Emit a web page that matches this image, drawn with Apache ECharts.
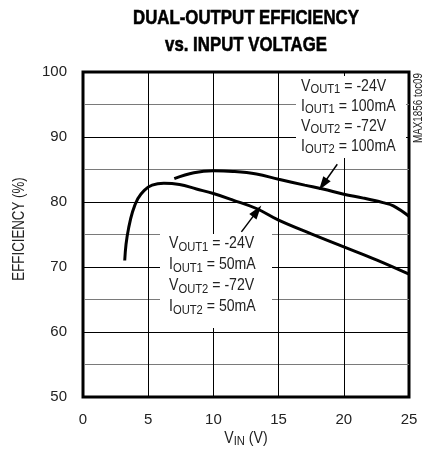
<!DOCTYPE html>
<html>
<head>
<meta charset="utf-8">
<script src="https://cdn.jsdelivr.net/npm/echarts@6/dist/echarts.min.js"></script>
<style>
  html, body { margin: 0; padding: 0; background: #fff; }
  #chart { width: 435px; height: 457px; }
</style>
</head>
<body>
<div id="chart"></div>
<script>
// Helvetica-like font, squeezed with scaleX to look condensed
let font = "'Liberation Sans', Arial, sans-serif";
let narrow = 0.83;

// x ticks (V) and y ticks (%)
let xTicks = [0, 5, 10, 15, 20, 25];
let yTicks = [50, 60, 70, 80, 90, 100];

// VOUT1=-24V, IOUT1=100mA / VOUT2=-72V, IOUT2=100mA
let vin100 = [7.0, 8.5, 10, 11.5, 13.3, 15, 17, 18.4, 20, 21.5, 23, 23.8, 25];
let eff100 = [83.6, 84.5, 84.8, 84.7, 84.3, 83.5, 82.6, 82.0, 81.2, 80.6, 79.9, 79.4, 77.8];

// VOUT1=-24V, IOUT1=50mA / VOUT2=-72V, IOUT2=50mA
let vin50 = [3.2, 3.3, 3.5, 3.8, 4.2, 4.7, 5.3, 6.2, 7.4, 8.7, 10, 11.5, 13.3, 15, 17.5, 20, 22.5, 25];
let eff50 = [71.0, 73.5, 76.0, 78.5, 80.5, 81.8, 82.6, 82.9, 82.7, 82.0, 81.3, 80.3, 79.0, 77.2, 75.1, 73.1, 71.1, 68.9];

function pairs(xs, ys) {
  return xs.map(function (x, i) { return [x, ys[i]]; });
}

let subStyle = { fontFamily: font, fontSize: 13.5, lineHeight: 12, verticalAlign: 'bottom', fill: '#222' };

function label(x, y, text, opts) {
  opts = opts || {};
  return {
    type: 'text',
    x: x,
    y: y,
    rotation: opts.rotation || 0,
    scaleX: opts.scaleX || narrow,
    z: 101,
    style: {
      text: text,
      fontFamily: font,
      fontSize: opts.fontSize || 17,
      fontWeight: opts.fontWeight || 'normal',
      lineHeight: opts.lineHeight || 20,
      fill: opts.fill || '#222',
      stroke: opts.stroke || null,
      lineWidth: opts.lineWidth || 0,
      align: opts.align || 'left',
      verticalAlign: opts.verticalAlign || 'top',
      rich: { sub: subStyle }
    }
  };
}

let option = {
  animation: false,
  grid: {
    left: 83, right: 26, top: 72, bottom: 60,
    show: true,
    borderColor: '#000',
    borderWidth: 3,
    backgroundColor: '#fff'
  },
  xAxis: {
    type: 'value',
    min: 0, max: 25, interval: 5,
    axisLine: { show: false },
    axisTick: { show: false },
    axisLabel: {
      fontFamily: font, fontSize: 15, color: '#222', margin: 15,
      formatter: function (v) { return xTicks.indexOf(v) >= 0 ? String(v) : ''; }
    },
    splitLine: { show: true, lineStyle: { color: '#000', width: 1 } }
  },
  yAxis: {
    type: 'value',
    min: 50, max: 100, interval: 5,
    axisLine: { show: false },
    axisTick: { show: false },
    axisLabel: {
      fontFamily: font, fontSize: 15, color: '#222', margin: 16,
      formatter: function (v) { return yTicks.indexOf(v) >= 0 ? String(v) : ''; }
    },
    splitLine: { show: true, lineStyle: { color: ['#000', '#7a7a7a'], width: 1 } }
  },
  graphic: [
    // title
    label(246, 32, 'DUAL-OUTPUT EFFICIENCY\nvs. INPUT VOLTAGE', {
      fontSize: 21, fontWeight: 'bold', lineHeight: 27, fill: '#000',
      stroke: '#000', lineWidth: 0.6, align: 'center', verticalAlign: 'middle', scaleX: 0.8
    }),
    // note boxes
    { type: 'rect', z: 100, shape: { x: 296, y: 76, width: 110, height: 82 }, style: { fill: '#fff' } },
    { type: 'rect', z: 100, shape: { x: 160, y: 234, width: 112, height: 94 }, style: { fill: '#fff' } },
    label(301, 76, [
      'V{sub|OUT1} = -24V',
      'I{sub|OUT1} = 100mA',
      'V{sub|OUT2} = -72V',
      'I{sub|OUT2} = 100mA'
    ].join('\n'), { lineHeight: 20 }),
    label(169, 233, [
      'V{sub|OUT1} = -24V',
      'I{sub|OUT1} = 50mA',
      'V{sub|OUT2} = -72V',
      'I{sub|OUT2} = 50mA'
    ].join('\n'), { lineHeight: 21 }),
    // axis names
    label(20, 229, 'EFFICIENCY (%)', {
      fontSize: 16, rotation: Math.PI / 2, align: 'center', verticalAlign: 'middle'
    }),
    label(246, 438, 'V{sub|IN} (V)', {
      fontSize: 17, align: 'center', verticalAlign: 'middle'
    }),
    label(419, 108, 'MAX1856 toc09', {
      fontSize: 12, rotation: Math.PI / 2, align: 'center', verticalAlign: 'middle', scaleX: 0.82
    })
  ],
  series: [
    {
      name: '100mA',
      type: 'line',
      data: pairs(vin100, eff100),
      smooth: 0.4,
      showSymbol: false,
      lineStyle: { color: '#000', width: 3 },
      markLine: {
        silent: true,
        symbol: ['none', 'triangle'],
        symbolSize: [9, 14],
        label: { show: false },
        lineStyle: { color: '#000', width: 1.5, type: 'solid' },
        data: [[{ coord: [19.5, 85.8] }, { coord: [18.4, 82.7] }]]
      }
    },
    {
      name: '50mA',
      type: 'line',
      data: pairs(vin50, eff50),
      smooth: 0.4,
      showSymbol: false,
      lineStyle: { color: '#000', width: 3 },
      markLine: {
        silent: true,
        symbol: ['none', 'triangle'],
        symbolSize: [9, 14],
        label: { show: false },
        lineStyle: { color: '#000', width: 1.5, type: 'solid' },
        data: [[{ coord: [12.15, 75.4] }, { coord: [13.35, 78.6] }]]
      }
    }
  ]
};

let chart = echarts.init(document.getElementById('chart'));
chart.setOption(option);
</script>
</body>
</html>
